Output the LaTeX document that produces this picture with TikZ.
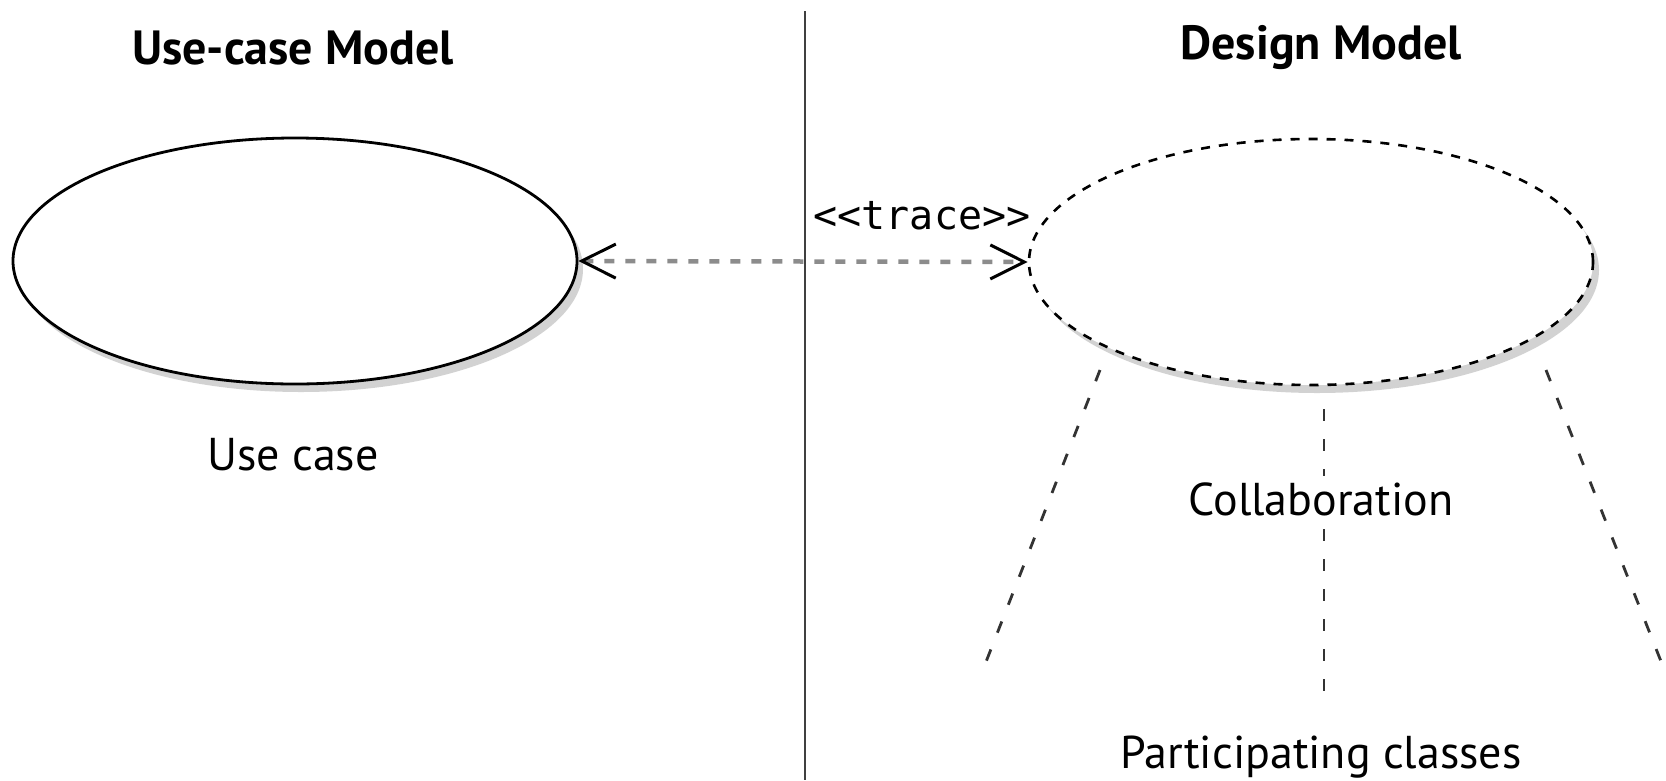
\documentclass[tikz,border=0pt]{standalone}
\usepackage{fontspec}
\setmainfont{PT Sans}
\newfontfamily\monofont{DejaVu Sans Mono}
\usetikzlibrary{shapes.geometric,arrows.meta,shadows}
\begin{document}
\begin{tikzpicture}[x=1pt,y=-1pt,
  title/.style={font=\fontsize{48}{50}\selectfont\bfseries, inner sep=0pt},
  lbl/.style={font=\fontsize{46}{50}\selectfont, inner sep=0pt},
  usecase/.style={ellipse, draw=black, line width=2.8pt, fill=white,
    minimum width=564pt, minimum height=246pt, inner sep=0pt,
    drop shadow={shadow xshift=6pt, shadow yshift=-8pt, fill=black!35}},
  collabshape/.style={usecase, dash pattern=on 9pt off 9pt, line width=2.6pt},
  tracearrow/.style={draw=black!45, line width=4.5pt, dash pattern=on 10pt off 11pt,
    {Straight Barb[length=34pt,width=34pt,line width=3pt,color=black]}-{Straight Barb[length=34pt,width=34pt,line width=3pt,color=black]}},
  fan/.style={draw=black!80, line width=2.8pt, dash pattern=on 12pt off 18pt}
]
\useasboundingbox (0,0) rectangle (1666,780);
\fill[white] (0,0) rectangle (1666,780);

% divider
\coordinate (dtop) at (805,11);
\coordinate (dbot) at (805,780);
\draw[black!75, line width=2.6pt] (dtop) -- (dbot);

% titles
\node[title] (t1) at (293,48) {Use-case Model};
\node[title] (t2) at (1321,48) {Design Model};

% ellipses
\node[usecase] (uc) at (295,261) {};
\node[collabshape] (collab) at (1311,262) {};

\node[lbl] (uclbl) at (293,455) {Use case};

% trace
\draw[tracearrow] (uc.east) -- (collab.west);
\node[font=\monofont\fontsize{40}{44}\selectfont, inner sep=0pt] (trace) at (922,216) {<{}<trace>{}>};

% fan lines
\coordinate (l1) at (1100,370);
\coordinate (l2) at (984,667);
\coordinate (m1) at (1324,409);
\coordinate (m2) at (1324,701);
\coordinate (r1) at (1546,370);
\coordinate (r2) at (1664,669);
\draw[fan] (l1) -- (l2);
\draw[fan] (m1) -- (m2);
\draw[fan] (r1) -- (r2);

\node[lbl, fill=white, inner sep=6pt] (collbl) at (1321,499) {Collaboration};
\node[lbl] (pclbl) at (1321,757) {Participating classes};
\end{tikzpicture}
\end{document}
